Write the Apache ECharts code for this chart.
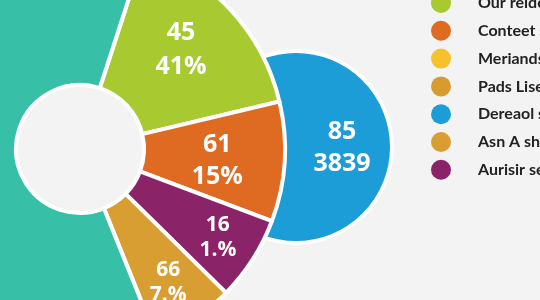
<!DOCTYPE html>
<html>
<head>
<meta charset="utf-8">
<style>html,body{margin:0;padding:0;background:#f3f3f3;}#c{width:540px;height:300px;}</style>
<script src="https://cdn.jsdelivr.net/npm/echarts@6/dist/echarts.min.js"></script>
</head>
<body>
<div id="c"></div>
<script>
// ---- data ----
const ringNames = ['Our reide', 'Conteet s', 'Aurisir se', 'Asn A sha', 'Other'];
const ringValues = [58.6, 34, 24, 23.5, 220];
const ringTop = ['45', '61', '16', '66', ''];
const ringBottom = ['41%', '15%', '1.%', '7.%', ''];
const bubbleNames = ['Dereaol s', 'Meriands', 'Pads Lise'];
const bubbleValues = [85, 0, 0];
const bubbleTop = ['85', '', ''];
const bubbleBottom = ['3839', '', ''];
const legendNames = ['Our reide', 'Conteet s', 'Meriands', 'Pads Lise', 'Dereaol s', 'Asn A sha', 'Aurisir se'];

// ---- styles ----
const ringColors = ['#a8c92f', '#df6a22', '#8a2367', '#d89e31', '#38bfa8'];
const bubbleColors = ['#1d9dd8', '#f6c12b', '#d79b30'];
const ringOffsets = [[0, -6], [0, 3], [22, 14], [12, 19], [0, 0]];
const ringFont = [25, 25, 21, 21, 21];
const ringLine = [34, 32, 25, 25, 25];

const labelStyle = {
  color: '#fff', fontFamily: 'Open Sans', fontWeight: 'bold', fontSize: 25, lineHeight: 34
};

const ringData = ringNames.map((n, i) => ({
  name: n, value: ringValues[i], top: ringTop[i], bottom: ringBottom[i],
  itemStyle: { color: ringColors[i] },
  label: { show: ringTop[i] !== '', offset: ringOffsets[i], fontSize: ringFont[i], lineHeight: ringLine[i] }
}));
const bubbleData = bubbleNames.map((n, i) => ({
  name: n, value: bubbleValues[i], top: bubbleTop[i], bottom: bubbleBottom[i],
  itemStyle: { color: bubbleColors[i], borderWidth: bubbleValues[i] ? 4 : 0 },
  label: { show: bubbleTop[i] !== '' }
}));

const chart = echarts.init(document.getElementById('c'), null, { renderer: 'canvas' });
chart.setOption({
  backgroundColor: '#f3f3f3',
  animation: false,
  legend: {
    orient: 'vertical', left: 426, top: -12,
    data: legendNames,
    icon: 'circle', itemWidth: 20, itemHeight: 20, itemGap: 7.8,
    selectedMode: false,
    itemStyle: { borderWidth: 0 },
    textStyle: {
      color: '#222', fontFamily: 'Lato', fontWeight: 'bold', fontSize: 16,
      padding: [0, 0, 0, 22]
    }
  },
  series: [
    {
      type: 'pie', z: 1,
      center: [296, 147], radius: [0, 96],
      startAngle: 180, clockwise: true,
      silent: true,
      itemStyle: { borderColor: '#fff', borderWidth: 4 },
      label: {
        position: 'inside', ...labelStyle, lineHeight: 32, offset: [-5, 1],
        formatter: p => p.data.top + '\n' + p.data.bottom
      },
      labelLine: { show: false },
      data: bubbleData
    },
    {
      type: 'pie', z: 2,
      center: [80, 149], radius: [64, 205],
      startAngle: 72, clockwise: true,
      silent: true,
      itemStyle: { borderColor: '#fff', borderWidth: 4 },
      label: {
        position: 'inside', ...labelStyle,
        formatter: p => p.data.top + '\n' + p.data.bottom
      },
      labelLine: { show: false },
      data: ringData
    }
  ]
});
</script>
</body>
</html>
